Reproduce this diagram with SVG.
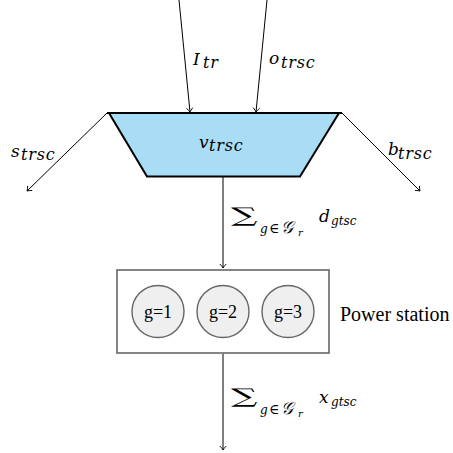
<svg xmlns="http://www.w3.org/2000/svg" width="453" height="453" viewBox="0 0 453 453">
<style>
.m{font-family:"DejaVu Serif","Liberation Serif",serif;font-style:italic;font-size:17px;fill:#000}
.sb{font-size:16px;letter-spacing:0.8px}
.ss{font-size:12px}
.u{font-style:normal}
.sig{font-family:"DejaVu Serif","Liberation Serif",serif;font-size:20px;fill:#000}
.t{font-family:"Liberation Serif","Times New Roman",serif;fill:#000}
.c{fill:#efefef;stroke:#666;stroke-width:1.4}
.ln{stroke:#000;stroke-width:1;fill:none}
</style>
<defs>
<marker id="ah" markerUnits="userSpaceOnUse" markerWidth="12" markerHeight="12" refX="0" refY="0" viewBox="-6 -6 12 12" orient="auto" overflow="visible">
<path d="M -4 -3.2 Q -1.5 -0.8 0 0 Q -1.5 0.8 -4 3.2" fill="none" stroke="#000" stroke-width="0.9"/>
</marker>
</defs>
<g id="connectors">
<line class="ln" x1="179" y1="0" x2="190" y2="112" marker-end="url(#ah)"/>
<line class="ln" x1="267" y1="0" x2="256" y2="112" marker-end="url(#ah)"/>
<line class="ln" x1="107" y1="113" x2="27" y2="191" marker-end="url(#ah)"/>
<line class="ln" x1="342" y1="113" x2="420" y2="191" marker-end="url(#ah)"/>
<line class="ln" x1="223" y1="177" x2="223" y2="268" marker-end="url(#ah)"/>
<line class="ln" x1="223" y1="354" x2="223" y2="450" marker-end="url(#ah)"/>
</g>
<g id="reservoir">
<polygon points="109,113 339,113 300,176.5 147,176.5" fill="#a9ddf6" stroke="#000" stroke-width="2" stroke-linejoin="miter"/>
<line x1="107" y1="113" x2="342" y2="113" stroke="#000" stroke-width="2"/>
<text class="m" x="199" y="148">v<tspan class="sb" x="209" y="151">trsc</tspan></text>
</g>
<g id="labels">
<text class="m" x="193" y="65">I<tspan class="sb" x="203" y="68">tr</tspan></text>
<text class="m" x="269" y="64">o<tspan class="sb" x="281" y="68">trsc</tspan></text>
<text class="m" x="11" y="157">s<tspan class="sb" x="21" y="160">trsc</tspan></text>
<text class="m" x="388" y="155">b<tspan class="sb" x="398" y="159">trsc</tspan></text>
<text class="sig" transform="translate(231,222) scale(1.85,1)">∑</text>
<text class="m ss" x="260" y="233">g<tspan class="u" font-size="14" x="269">∈</tspan><tspan font-size="17" x="281">𝒢</tspan><tspan font-size="10" x="298" y="236">r</tspan><tspan font-size="17" x="319" y="222">d</tspan><tspan x="331" y="225">gtsc</tspan></text>
<text class="sig" transform="translate(231,403) scale(1.85,1)">∑</text>
<text class="m ss" x="260" y="414">g<tspan class="u" font-size="14" x="269">∈</tspan><tspan font-size="17" x="281">𝒢</tspan><tspan font-size="10" x="298" y="417">r</tspan><tspan font-size="17" x="319" y="403">x</tspan><tspan x="331" y="406">gtsc</tspan></text>
</g>
<g id="power-station">
<rect x="117" y="270" width="212" height="83" fill="#fff" stroke="#666" stroke-width="1.6"/>
<text class="t" x="340" y="321" font-size="20">Power station</text>
</g>
<g id="g1">
<circle class="c" cx="158" cy="311.5" r="26"/>
<text class="t" x="158" y="318" font-size="18" text-anchor="middle">g=1</text>
</g>
<g id="g2">
<circle class="c" cx="223" cy="311.5" r="26"/>
<text class="t" x="223" y="318" font-size="18" text-anchor="middle">g=2</text>
</g>
<g id="g3">
<circle class="c" cx="288" cy="311.5" r="26"/>
<text class="t" x="288" y="318" font-size="18" text-anchor="middle">g=3</text>
</g>
</svg>
